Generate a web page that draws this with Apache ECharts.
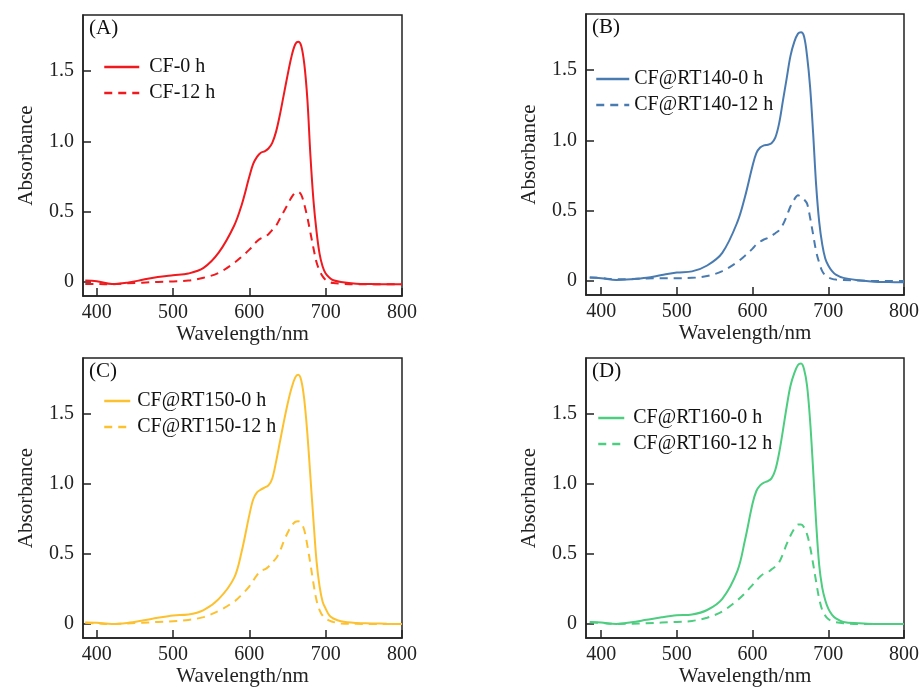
<!DOCTYPE html>
<html>
<head>
<meta charset="utf-8">
<script src="https://cdn.jsdelivr.net/npm/echarts@6/dist/echarts.min.js"></script>
<style>
  html, body { margin: 0; padding: 0; background: #fff; }
  #chart { width: 922px; height: 688px; }
</style>
</head>
<body>
<div id="chart"></div>
<script>
// wavelength (nm) sampled for every curve
const wavelength = [385, 400, 420, 440, 460, 480, 500, 520, 540, 560, 580, 590, 600, 605, 610, 615, 620, 625, 630, 635, 640, 645, 650, 655, 660, 664, 668, 672, 676, 680, 684, 688, 692, 696, 700, 705, 710, 720, 740, 760, 780, 800];

const cf0h = [0.01, 0.005, -0.015, -0.005, 0.015, 0.035, 0.048, 0.06, 0.1, 0.21, 0.4, 0.55, 0.75, 0.84, 0.89, 0.92, 0.93, 0.95, 0.99, 1.07, 1.19, 1.33, 1.47, 1.6, 1.69, 1.71, 1.68, 1.55, 1.3, 0.9, 0.58, 0.36, 0.2, 0.11, 0.06, 0.03, 0.012, 0.0, -0.012, -0.015, -0.017, -0.017];
const cf12h = [-0.015, -0.015, -0.017, -0.01, -0.005, 0.0, 0.004, 0.01, 0.03, 0.065, 0.135, 0.18, 0.23, 0.26, 0.29, 0.31, 0.32, 0.34, 0.37, 0.4, 0.45, 0.5, 0.55, 0.6, 0.635, 0.64, 0.62, 0.55, 0.46, 0.35, 0.24, 0.14, 0.08, 0.04, 0.015, 0.0, -0.008, -0.012, -0.017, -0.017, -0.017, -0.017];

const rt140_0h = [0.025, 0.02, 0.007, 0.012, 0.022, 0.042, 0.06, 0.068, 0.11, 0.2, 0.42, 0.6, 0.82, 0.91, 0.95, 0.965, 0.97, 0.98, 1.02, 1.12, 1.28, 1.44, 1.6, 1.7, 1.76, 1.77, 1.74, 1.6, 1.38, 1.05, 0.68, 0.42, 0.26, 0.16, 0.11, 0.07, 0.045, 0.022, 0.005, -0.005, -0.008, -0.01];
const rt140_12h = [0.025, 0.02, 0.012, 0.014, 0.018, 0.02, 0.02, 0.022, 0.035, 0.07, 0.135, 0.18, 0.23, 0.26, 0.28, 0.295, 0.305, 0.32, 0.34, 0.36, 0.4, 0.46, 0.53, 0.58, 0.61, 0.6, 0.58, 0.55, 0.45, 0.33, 0.21, 0.13, 0.07, 0.04, 0.025, 0.015, 0.01, 0.006, 0.004, 0.0, 0.0, 0.0];

const rt150_0h = [0.012, 0.01, 0.0, 0.008, 0.025, 0.045, 0.062, 0.068, 0.1, 0.18, 0.33, 0.52, 0.78, 0.89, 0.94, 0.96, 0.975, 0.99, 1.04, 1.16, 1.3, 1.44, 1.57, 1.68, 1.76, 1.78, 1.74, 1.6, 1.36, 1.05, 0.74, 0.45, 0.27, 0.16, 0.11, 0.06, 0.04, 0.02, 0.008, 0.005, 0.002, 0.0];
const rt150_12h = [0.01, 0.005, 0.0, 0.005, 0.01, 0.015, 0.02, 0.03, 0.05, 0.095, 0.16, 0.21, 0.27, 0.31, 0.35, 0.38, 0.39, 0.41, 0.44, 0.47, 0.52, 0.59, 0.65, 0.7, 0.73, 0.735, 0.72, 0.67, 0.56, 0.43, 0.29, 0.17, 0.1, 0.06, 0.04, 0.025, 0.015, 0.005, 0.002, 0.0, 0.0, 0.0];

const rt160_0h = [0.015, 0.01, 0.0, 0.012, 0.03, 0.048, 0.062, 0.068, 0.1, 0.18, 0.38, 0.6, 0.86, 0.95, 0.99, 1.01, 1.02, 1.04, 1.1, 1.22, 1.38, 1.55, 1.7, 1.79, 1.85, 1.86, 1.82, 1.7, 1.45, 1.1, 0.72, 0.42, 0.26, 0.17, 0.11, 0.065, 0.04, 0.015, 0.005, 0.0, 0.0, 0.0];
const rt160_12h = [0.012, 0.008, 0.0, 0.002, 0.006, 0.01, 0.015, 0.022, 0.045, 0.09, 0.17, 0.22, 0.28, 0.31, 0.34, 0.36, 0.37, 0.39, 0.41, 0.44, 0.5, 0.57, 0.63, 0.68, 0.71, 0.71, 0.69, 0.64, 0.55, 0.43, 0.3, 0.18, 0.1, 0.06, 0.035, 0.02, 0.012, 0.005, 0.0, 0.0, 0.0, 0.0];

const xTicks = [400, 500, 600, 700, 800];
const yTicks = [0, 0.5, 1.0, 1.5];

const font = "'Liberation Serif', 'Times New Roman', serif";

const panels = [
  { tag: '(A)', color: '#f0191e', names: ['CF-0 h', 'CF-12 h'], data: [cf0h, cf12h],
    grid: { left: 83, top: 15, width: 319, height: 281 }, xMin: 382,
    legend: { left: 103, top: 57, w: 35, pad: 5 } },
  { tag: '(B)', color: '#4a7bb0', names: ['CF@RT140-0 h', 'CF@RT140-12 h'], data: [rt140_0h, rt140_12h],
    grid: { left: 586, top: 14, width: 319, height: 281 }, xMin: 380,
    legend: { left: 595, top: 69, w: 33, pad: 0 } },
  { tag: '(C)', color: '#fdc12f', names: ['CF@RT150-0 h', 'CF@RT150-12 h'], data: [rt150_0h, rt150_12h],
    grid: { left: 83, top: 358, width: 319, height: 281 }, xMin: 382,
    legend: { left: 103, top: 391, w: 26, pad: 2 } },
  { tag: '(D)', color: '#4ccd7f', names: ['CF@RT160-0 h', 'CF@RT160-12 h'], data: [rt160_0h, rt160_12h],
    grid: { left: 586, top: 358, width: 319, height: 280 }, xMin: 380,
    legend: { left: 597, top: 408, w: 26, pad: 4 } }
];

const grids = [], xAxes = [], yAxes = [], series = [], legends = [], titles = [];

panels.forEach((p, i) => {
  grids.push(Object.assign({ show: true, borderColor: '#222', borderWidth: 1.5, backgroundColor: 'transparent' }, p.grid));
  xAxes.push({
    gridIndex: i, type: 'value', min: p.xMin, max: 800,
    name: 'Wavelength/nm', nameLocation: 'middle', nameGap: 27,
    nameTextStyle: { fontFamily: font, fontSize: 21, color: '#222' },
    axisLine: { show: true, onZero: false, lineStyle: { color: '#222', width: 1.5 } },
    axisTick: { show: true, inside: true, length: 8, customValues: xTicks, lineStyle: { color: '#222', width: 1.5 } },
    axisLabel: { customValues: xTicks, fontFamily: font, fontSize: 20, color: '#222', margin: 7 },
    splitLine: { show: false }
  });
  yAxes.push({
    gridIndex: i, type: 'value', min: -0.1, max: 1.9,
    name: 'Absorbance', nameLocation: 'middle', nameGap: 46, nameRotate: 90,
    nameTextStyle: { fontFamily: font, fontSize: 21, color: '#222' },
    axisLine: { show: true, onZero: false, lineStyle: { color: '#222', width: 1.5 } },
    axisTick: { show: true, inside: true, length: 8, customValues: yTicks, lineStyle: { color: '#222', width: 1.5 } },
    axisLabel: { customValues: yTicks, fontFamily: font, fontSize: 20, color: '#222', margin: 9,
      formatter: v => (v === 0 ? '0' : v.toFixed(1)) },
    splitLine: { show: false }
  });
  p.names.forEach((name, k) => {
    series.push({
      name: name, type: 'line', xAxisIndex: i, yAxisIndex: i,
      data: wavelength.map((w, j) => [w, p.data[k][j]]),
      smooth: 0.35, symbol: 'none',
      lineStyle: { color: p.color, width: 2, type: k === 0 ? 'solid' : [8, 6] },
      itemStyle: { color: p.color }
    });
  });
  legends.push({
    data: p.names, orient: 'vertical', left: p.legend.left, top: p.legend.top,
    itemWidth: p.legend.w, itemHeight: 14, itemGap: 6, padding: 0,
    itemStyle: { opacity: 0 },
    lineStyle: { width: 2.5 },
    textStyle: { fontFamily: font, fontSize: 20, color: '#111', padding: [0, 0, 0, p.legend.pad] }
  });
  titles.push({
    text: p.tag, left: p.grid.left + 6, top: p.grid.top + 3, padding: 0,
    textStyle: { fontFamily: font, fontSize: 21, fontWeight: 'normal', color: '#111' }
  });
});

const chart = echarts.init(document.getElementById('chart'), null, { renderer: 'canvas' });
chart.setOption({
  animation: false,
  backgroundColor: '#fff',
  title: titles,
  grid: grids,
  xAxis: xAxes,
  yAxis: yAxes,
  legend: legends,
  series: series
});
</script>
</body>
</html>
